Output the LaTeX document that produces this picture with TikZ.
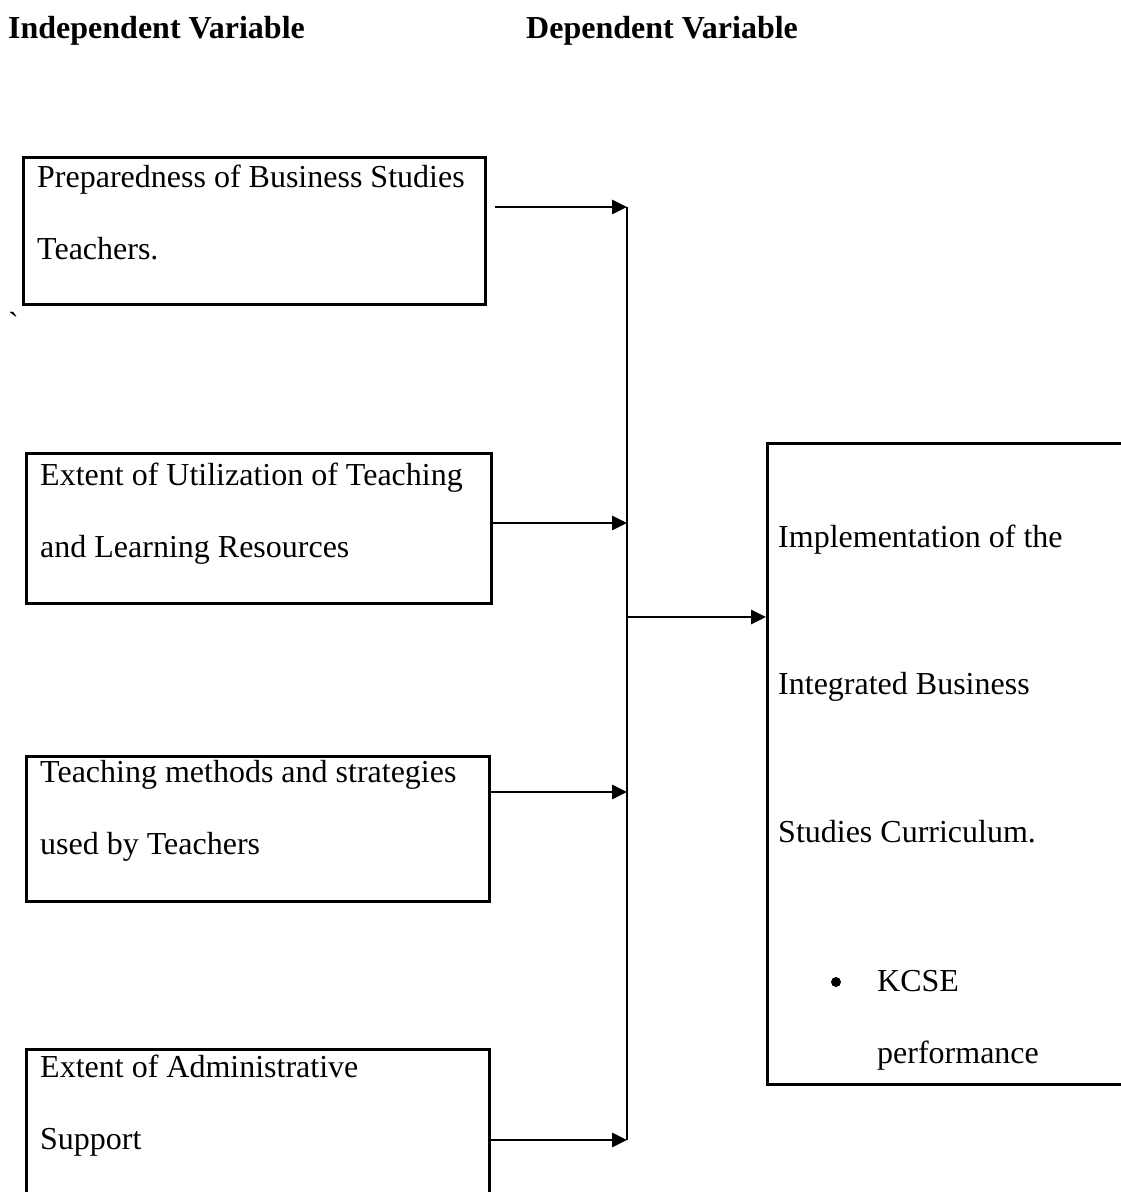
\documentclass[tikz,border=0pt]{standalone}
\usepackage{fontspec}
\setmainfont{Liberation Serif}
\newfontfamily\gravefont{Liberation Serif}
\usetikzlibrary{arrows.meta}
\begin{document}
\begin{tikzpicture}[x=1pt,y=-1pt,
  box/.style={draw=black,line width=2.5pt,rectangle,inner sep=0pt,anchor=north west},
  txt/.style={inner sep=0pt,anchor=base west,font=\fontsize{32}{38}\selectfont},
  head/.style={inner sep=0pt,anchor=base west,font=\fontsize{32}{38}\selectfont\bfseries},
  conn/.style={line width=2.6pt},
  arr/.style={line width=2.8pt,-{Triangle[length=15pt,width=14pt]}}]
\useasboundingbox (0,0) rectangle (1120,1192);
\fill[white] (0,0) rectangle (1120,1192);
% headings
\node[head] (h1) at (8,38) {Independent Variable};
\node[head] (h2) at (526,38) {Dependent Variable};
% boxes
\node[box,minimum width=462pt,minimum height=147pt] (b1) at (22,156) {};
\node[box,minimum width=465pt,minimum height=150pt] (b2) at (25,452) {};
\node[box,minimum width=463pt,minimum height=145pt] (b3) at (25,755) {};
\node[box,minimum width=463pt,minimum height=180pt] (b4) at (25,1048) {};
\node[box,minimum width=370pt,minimum height=641pt] (r) at (766,442) {};
% texts
\node[txt] (t11) at (37,187) {Preparedness of Business Studies};
\node[txt] (t12) at (37,259) {Teachers.};
\node[txt] (t21) at (40,485) {Extent of Utilization of Teaching};
\node[txt] (t22) at (40,557) {and Learning Resources};
\node[txt] (t31) at (40,782) {Teaching methods and strategies};
\node[txt] (t32) at (40,854) {used by Teachers};
\node[txt] (t41) at (40,1077) {Extent of Administrative};
\node[txt] (t42) at (40,1149) {Support};
\node[txt] (r1) at (778,547) {Implementation of the};
\node[txt] (r2) at (778,694) {Integrated Business};
\node[txt] (r3) at (778,842) {Studies Curriculum.};
\node[txt] (r4) at (877,991) {KCSE};
\node[txt] (r5) at (877,1063) {performance};
\fill (836,982) circle (5pt);
\node[txt,font=\fontsize{32}{38}\gravefont] (bt) at (8,334) {\char96};
% connectors
\coordinate (v1) at (627,207);
\coordinate (v2) at (627,523);
\coordinate (v3) at (627,792);
\coordinate (v4) at (627,1140);
\coordinate (vm) at (627,617);
\draw[conn] (v1) -- (v4);
\draw[arr] (b1.east |- v1) ++(8,0) -- (v1);
\draw[arr] (b2.east |- v2) ++(-3,0) -- (v2);
\draw[arr] (b3.east |- v3) ++(-1,0) -- (v3);
\draw[arr] (b4.east |- v4) -- (v4);
\draw[arr] (vm) -- (r.west |- vm);
\end{tikzpicture}
\end{document}
